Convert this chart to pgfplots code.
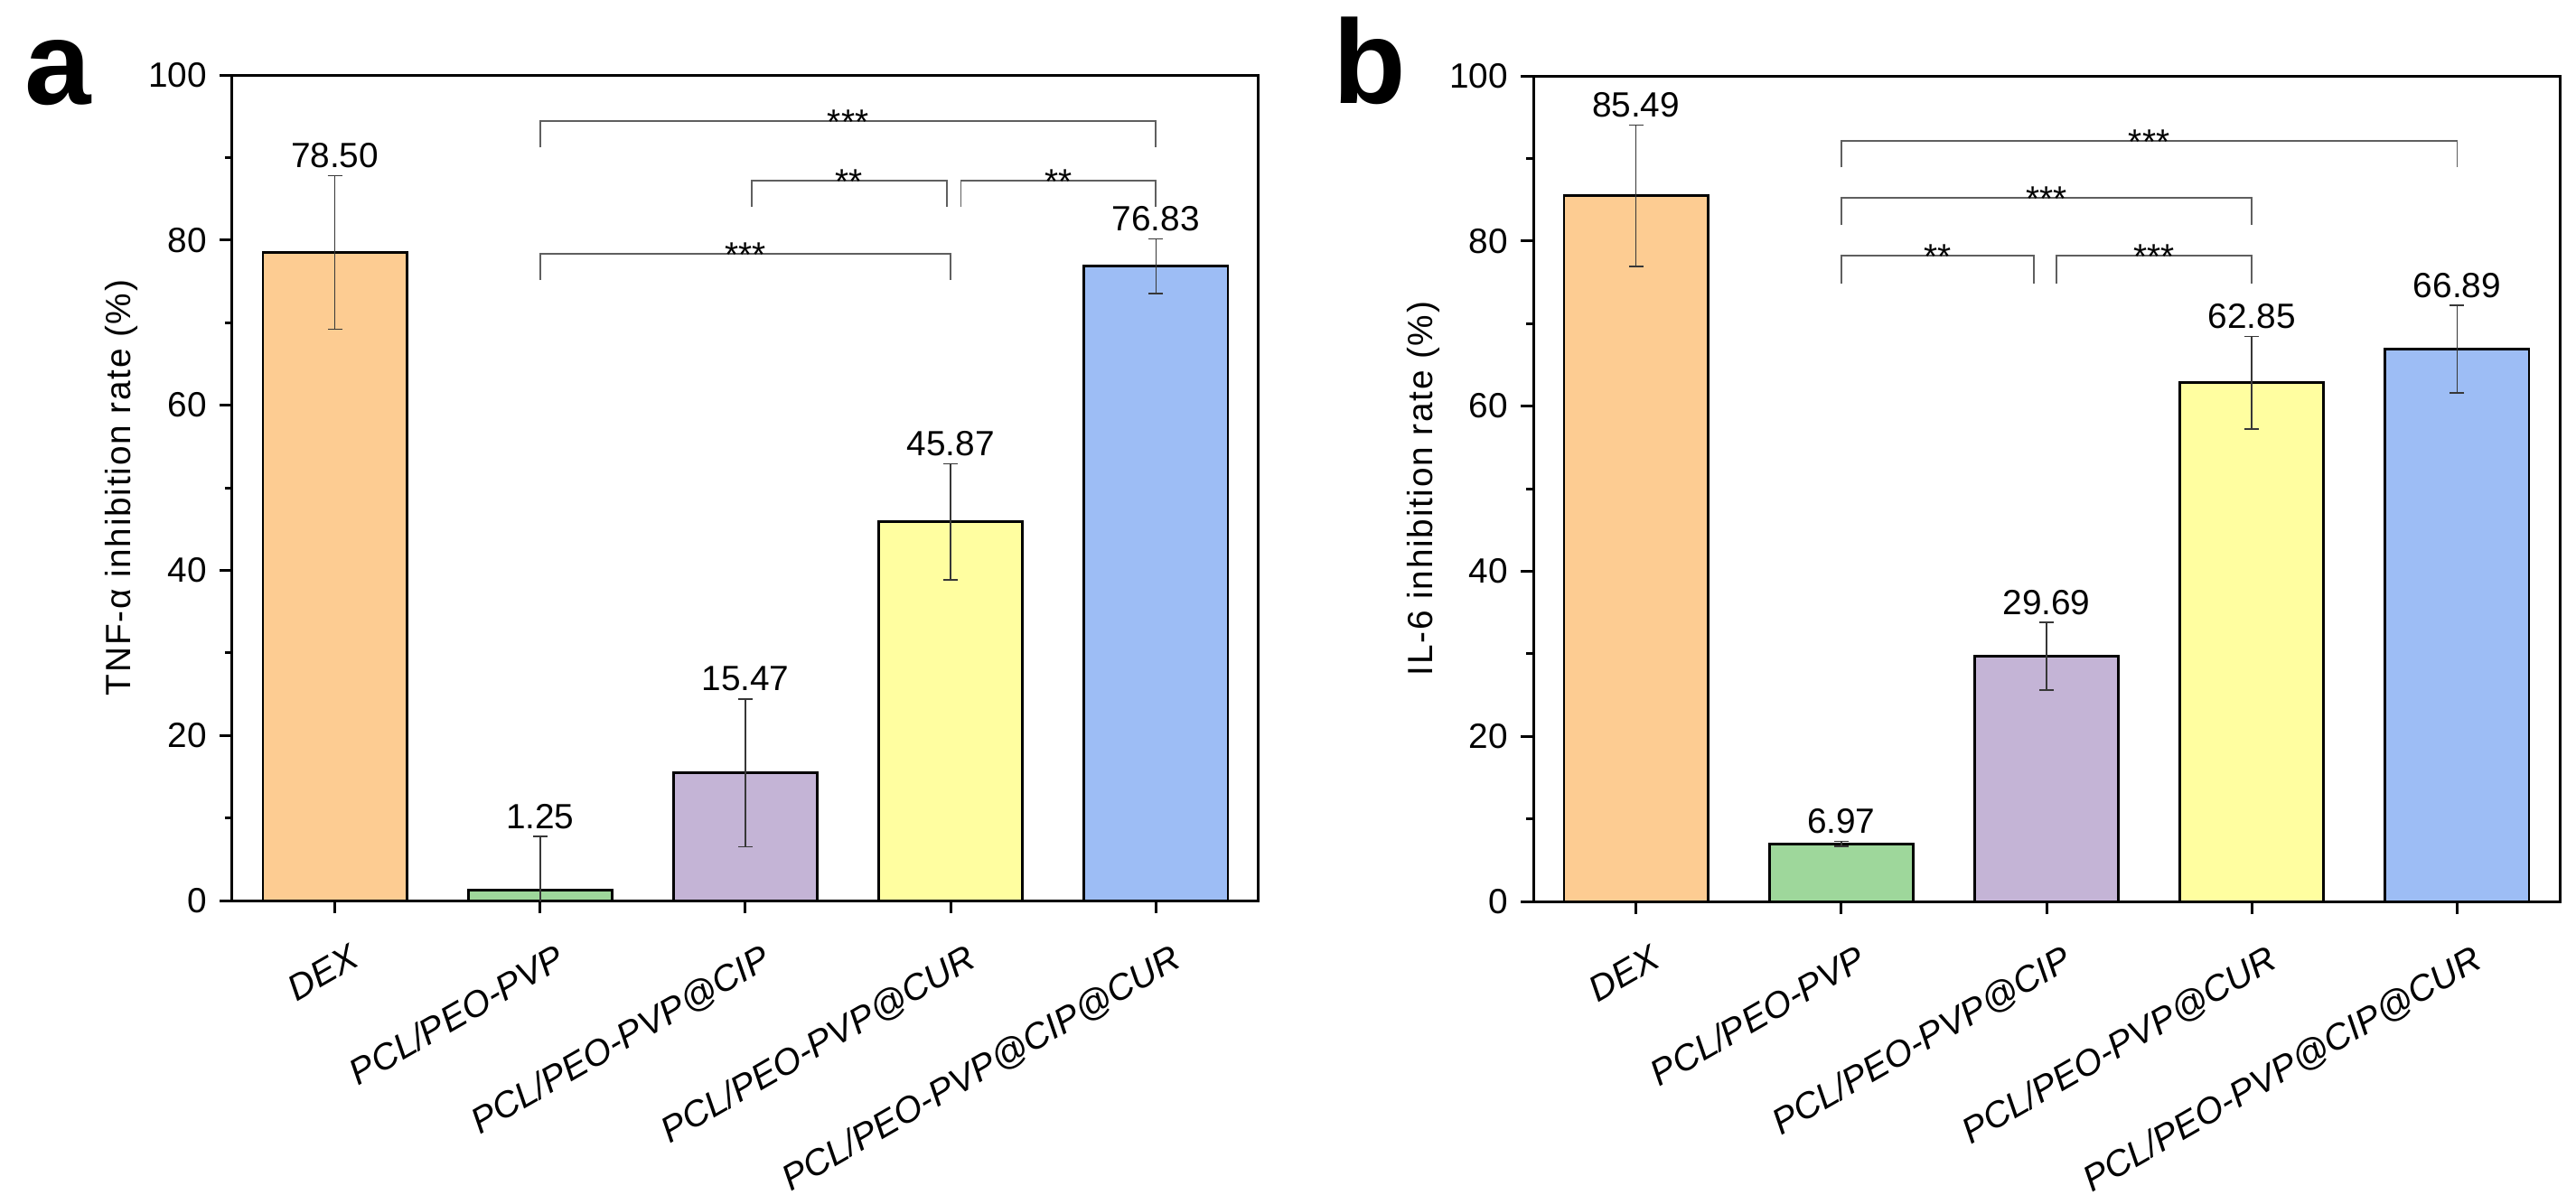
\documentclass[border=0pt]{standalone}
\usepackage{fontspec}
\setmainfont{Liberation Sans}
\usepackage{pgfplots}
\usepackage{pgfplotstable}
\pgfplotsset{compat=1.18}
\definecolor{cA}{RGB}{253,204,146}
\definecolor{cB}{RGB}{158,215,155}
\definecolor{cC}{RGB}{196,180,214}
\definecolor{cD}{RGB}{255,254,160}
\definecolor{cE}{RGB}{157,189,245}
\definecolor{errc}{RGB}{55,55,55}
\definecolor{brkc}{RGB}{95,95,95}
\newcommand{\lblfont}{\fontsize{9.7}{11}\selectfont}

\pgfplotstableread{
x v e lab
0 78.50 9.30 78.50
1 1.25 6.50 1.25
2 15.47 8.95 15.47
3 45.87 7.05 45.87
4 76.83 3.30 76.83
}\tnf

\pgfplotstableread{
x v e lab
0 85.49 8.55 85.49
1 6.97 0.30 6.97
2 29.69 4.10 29.69
3 62.85 5.60 62.85
4 66.89 5.30 66.89
}\ilsix

\tikzset{stars/.style={anchor=base, yshift=-3.6pt, inner sep=0pt, font=\lblfont}}
\pgfplotsset{
  mybars/.style={
    scale only axis, width=284pt, height=228.5pt,
    xmin=-0.5, xmax=4.5, ymin=0, ymax=100,
    xtick={0,1,2,3,4},
    xticklabels={DEX, PCL/PEO-PVP, PCL/PEO-PVP@CIP, PCL/PEO-PVP@CUR, PCL/PEO-PVP@CIP@CUR},
    ytick={0,20,40,60,80,100},
    minor ytick={10,30,50,70,90},
    tick align=outside, xtick pos=left, ytick pos=left,
    major tick length=3.5pt, minor tick length=2pt,
    every tick/.style={black, line width=0.75pt},
    axis line style={line width=0.75pt},
    /pgf/number format/assume math mode=true,
    yticklabel style={font=\lblfont},
    xticklabel style={font=\fontsize{10}{12}\selectfont\itshape, inner sep=0pt, xshift=4pt, yshift=-8pt, rotate=30, anchor=north east},
    every axis y label/.style={at={([xshift=-28pt]axis description cs:0,0.5)}, rotate=90, anchor=base, font={\lblfont\addfontfeature{LetterSpace=4.5}}},
    bar width=0.7,
  },
  onebar/.style={ybar, bar shift=0pt, draw=black, line width=0.7pt, fill=#1,
    error bars/.cd, y dir=both, y explicit,
    error bar style={line width=0.4pt, color=errc},
    error mark options={rotate=90, line width=0.4pt, color=errc, mark size=2pt}},
  vals/.style={only marks, mark=*, mark size=0pt, nodes near coords, point meta=explicit symbolic,
    nodes near coords style={anchor=base, yshift=2.25pt, inner sep=0pt, font=\lblfont, text=black}},
  brk/.style={sharp plot, mark=none, color=brkc, line width=0.45pt, forget plot},
}

\begin{document}
\begin{tikzpicture}
\begin{axis}[mybars, ylabel={TNF-α inhibition rate (\%)}]
\addplot[onebar=cA] coordinates {(0,78.50) +- (0,9.30)};
\addplot[onebar=cB] coordinates {(1,1.25) +- (0,6.50)};
\addplot[onebar=cC] coordinates {(2,15.47) +- (0,8.95)};
\addplot[onebar=cD] coordinates {(3,45.87) +- (0,7.05)};
\addplot[onebar=cE] coordinates {(4,76.83) +- (0,3.30)};
\addplot[vals] table[x=x, y expr=\thisrow{v}+\thisrow{e}, meta=lab] {\tnf};
\addplot[brk] coordinates {(1,91.2) (1,94.4) (4,94.4) (4,91.2)};
\addplot[brk] coordinates {(2.03,84.0) (2.03,87.2) (2.98,87.2) (2.98,84.0)};
\addplot[brk] coordinates {(3.05,84.0) (3.05,87.2) (4,87.2) (4,84.0)};
\addplot[brk] coordinates {(1,75.2) (1,78.3) (3,78.3) (3,75.2)};
\node[stars] at (axis cs:2.5,94.4) {***};
\node[stars] at (axis cs:2.505,87.2) {**};
\node[stars] at (axis cs:3.525,87.2) {**};
\node[stars] at (axis cs:2,78.3) {***};
\end{axis}
\begin{axis}[mybars, at={(360pt,-0.25pt)}, ylabel={IL-6 inhibition rate (\%)}]
\addplot[onebar=cA] coordinates {(0,85.49) +- (0,8.55)};
\addplot[onebar=cB] coordinates {(1,6.97) +- (0,0.30)};
\addplot[onebar=cC] coordinates {(2,29.69) +- (0,4.10)};
\addplot[onebar=cD] coordinates {(3,62.85) +- (0,5.60)};
\addplot[onebar=cE] coordinates {(4,66.89) +- (0,5.30)};
\addplot[vals] table[x=x, y expr=\thisrow{v}+\thisrow{e}, meta=lab] {\ilsix};
\addplot[brk] coordinates {(1,88.9) (1,92.1) (4,92.1) (4,88.9)};
\addplot[brk] coordinates {(1,81.9) (1,85.2) (3,85.2) (3,81.9)};
\addplot[brk] coordinates {(1,74.8) (1,78.2) (1.94,78.2) (1.94,74.8)};
\addplot[brk] coordinates {(2.05,74.8) (2.05,78.2) (3,78.2) (3,74.8)};
\node[stars] at (axis cs:2.5,92.1) {***};
\node[stars] at (axis cs:2,85.2) {***};
\node[stars] at (axis cs:1.47,78.2) {**};
\node[stars] at (axis cs:2.525,78.2) {***};
\end{axis}
\node[anchor=base west, inner sep=0pt, font=\fontsize{33}{36}\selectfont\bfseries] at (-57.5pt,220.5pt) {a};
\node[anchor=base west, inner sep=0pt, font=\fontsize{33}{36}\selectfont\bfseries] at (304.5pt,220.75pt) {b};
\pgfresetboundingbox
\path[use as bounding box] (-64.25pt,-83.75pt) rectangle (648.5pt,249.25pt);
\end{tikzpicture}
\end{document}
